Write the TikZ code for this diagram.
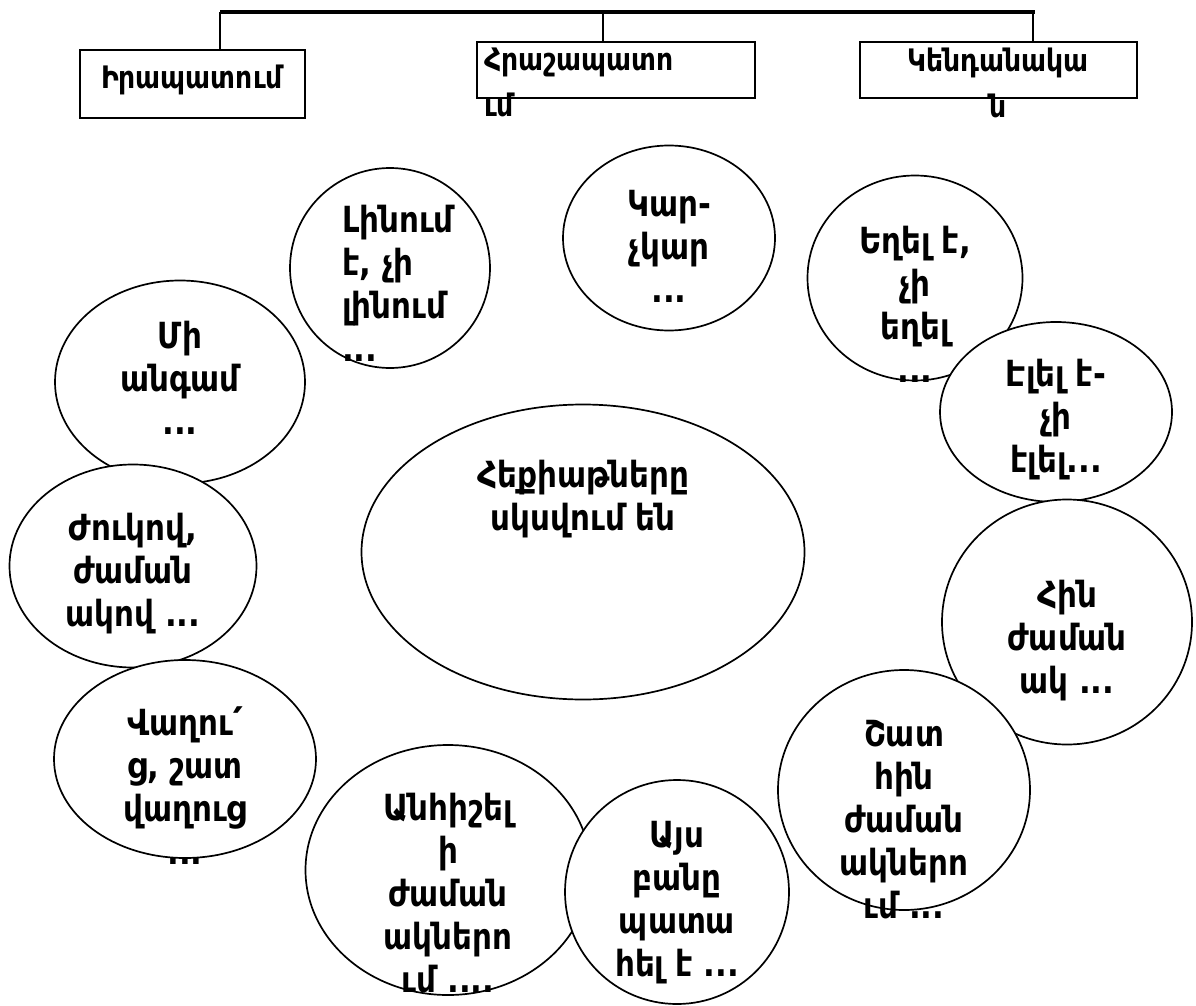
\documentclass[tikz,border=0pt]{standalone}
\usepackage{fontspec}
\setmainfont{DejaVu Sans}[FakeStretch=0.86]
\usetikzlibrary{shapes.geometric}

\begin{document}
\begin{tikzpicture}[
x=1pt,y=-1pt,
myoval/.style={
  draw,
  ellipse,
  fill=white,
  line width=1.7pt,
  inner sep=0pt
  },
mytext/.style={
  font=\fontsize{36}{43}\selectfont\bfseries,
  align=center,
  inner sep=0pt
  },
mybox/.style={
  draw,
  fill=white,
  line width=2pt,
  inner sep=0pt
  },
boxtext/.style={
  font=\fontsize{31}{46}\selectfont\bfseries,
  inner sep=0pt
  }
]
\useasboundingbox (0,0) rectangle (1196,1006);

% heading boxes
\node[mybox,minimum width=225,minimum height=68] (irap) at (192,84) {};
\node[boxtext] (irapt) at (192,80) {Իրապատում};
\node[mybox,minimum width=278,minimum height=56] (hras) at (616,70) {};
\node[boxtext,align=left,anchor=north west] (hrast) at (484,48) {Հրաշապատո\\ւմ};
\node[mybox,minimum width=277,minimum height=56] (kend) at (998,70) {};
\node[boxtext,align=center,anchor=north] (kendt) at (998,48) {Կենդանակա\\ն};

\coordinate (topl) at (220,12);
\coordinate (topm) at (603,12);
\coordinate (topr) at (1033,12);
\draw[line width=4pt] (topl) -- ([xshift=2pt]topr);
\draw[line width=2pt] (topl) -- (topl |- irap.north);
\draw[line width=2pt] (topm) -- (topm |- hras.north);
\draw[line width=2pt] (topr) -- (topr |- kend.north);

% left column
\node[myoval,minimum width=250,minimum height=203] (mi) at (180,382) {};
\node[mytext] (mit) at (180,378) {Մի\\անգամ\\...};
\node[myoval,minimum width=247,minimum height=203] (zhuk) at (133,566) {};
\node[mytext] (zhukt) at (133,574) {Ժուկով,\\ժաման\\ակով ...};
\node[myoval,minimum width=262,minimum height=198] (vagh) at (185,759) {};
\node[mytext] (vaght) at (185,786) {Վաղու՛\\ց, շատ\\վաղուց\\...};

% top row
\node[myoval,minimum width=200,minimum height=200] (linum) at (390,268) {};
\node[mytext,align=left] (linumt) at (398,283) {Լինում\\է, չի\\լինում\\...};
\node[myoval,minimum width=212,minimum height=185] (kar) at (669,238) {};
\node[mytext] (kart) at (669,246) {Կար-\\չկար\\...};

% right column
\node[myoval,minimum width=215,minimum height=205] (eghel) at (915,278) {};
\node[mytext] (eghelt) at (915,304) {Եղել է,\\չի\\եղել\\...};
\node[myoval,minimum width=232,minimum height=180] (elel) at (1056,412) {};
\node[mytext] (elelt) at (1056,420) {Էլել է-\\չի\\էլել...};
\node[myoval,minimum width=250,minimum height=245] (hin) at (1067,622) {};
\node[mytext] (hint) at (1067,641) {Հին\\ժաման\\ակ ...};
\node[myoval,minimum width=252,minimum height=240] (shat) at (904,790) {};
\node[mytext] (shatt) at (904,820) {Շատ\\հին\\ժաման\\ակներո\\ւմ ...};

% centre
\node[myoval,minimum width=443,minimum height=295] (main) at (583,552) {};
\node[mytext] (maint) at (583,499) {Հեքիաթները\\սկսվում են};

% bottom row
\node[myoval,minimum width=285,minimum height=250] (anhi) at (448,870) {};
\node[mytext] (anhit) at (448,893) {Անհիշել\\ի\\ժաման\\ակներո\\ւմ ....};
\node[myoval,minimum width=224,minimum height=224] (ays) at (677,892) {};
\node[mytext] (ayst) at (677,903) {Այս\\բանը\\պատա\\հել է ...};
\end{tikzpicture}
\end{document}
